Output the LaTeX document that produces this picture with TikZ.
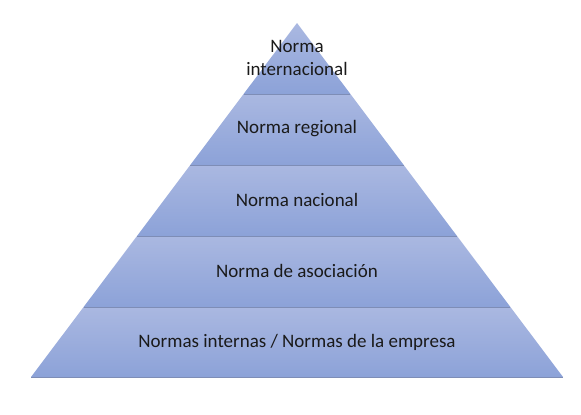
\documentclass[tikz,border=0pt]{standalone}
\usepackage{fontspec}
\setmainfont{Carlito}
\definecolor{bandtop}{HTML}{AAB8E1}
\definecolor{bandbot}{HTML}{8CA2D8}
\definecolor{sepline}{HTML}{7E8DB6}
\definecolor{txt}{HTML}{1A1A1A}
\begin{document}
\begin{tikzpicture}[x=1pt,y=-1pt,
  band/.style={top color=bandtop,bottom color=bandbot,draw=none},
  sep/.style={draw=sepline,line width=0.9pt},
  lbl/.style={text=txt,font=\fontsize{19}{23}\selectfont,align=center,inner sep=0pt}]
\useasboundingbox (0,0) rectangle (581,415);
% level coordinates
\coordinate (apex) at (297,23);
\coordinate (l1) at (243.6,94);  \coordinate (r1) at (350.4,94);
\coordinate (l2) at (190.3,165); \coordinate (r2) at (403.7,165);
\coordinate (l3) at (137,236);   \coordinate (r3) at (457,236);
\coordinate (l4) at (83.6,307);  \coordinate (r4) at (510.4,307);
\coordinate (l5) at (31,377);    \coordinate (r5) at (563,377);
% bands
\shade[band] (apex) -- (r1) -- (l1) -- cycle;
\shade[band] (l1) -- (r1) -- (r2) -- (l2) -- cycle;
\shade[band] (l2) -- (r2) -- (r3) -- (l3) -- cycle;
\shade[band] (l3) -- (r3) -- (r4) -- (l4) -- cycle;
\shade[band] (l4) -- (r4) -- (r5) -- (l5) -- cycle;
% separators
\draw[sep] (l1) -- (r1);
\draw[sep] (l2) -- (r2);
\draw[sep] (l3) -- (r3);
\draw[sep] (l4) -- (r4);
\draw[sep] (l5) -- (r5);
% labels
\node[lbl] (t1) at (297,58) {Norma\\internacional};
\node[lbl] (t2) at (297,129) {Norma regional};
\node[lbl] (t3) at (297,200) {Norma nacional};
\node[lbl] (t4) at (297,271) {Norma de asociación};
\node[lbl] (t5) at (297,342) {Normas internas / Normas de la empresa};
\end{tikzpicture}
\end{document}
